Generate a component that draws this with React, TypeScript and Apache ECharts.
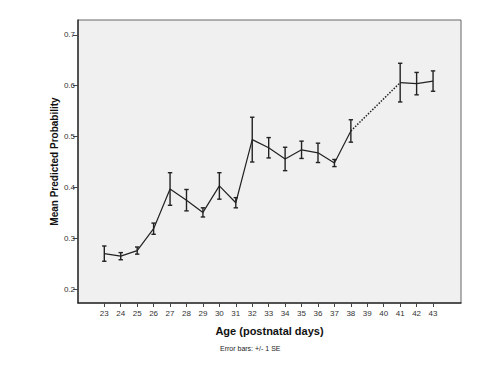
import React, { useEffect, useRef } from "react";
import * as echarts from "echarts";

const ages = [23, 24, 25, 26, 27, 28, 29, 30, 31, 32, 33, 34, 35, 36, 37, 38, 41, 42, 43];
const means = [0.270, 0.265, 0.276, 0.319, 0.397, 0.375, 0.351, 0.403, 0.370, 0.494, 0.478, 0.456, 0.474, 0.468, 0.448, 0.511, 0.606, 0.604, 0.609];
const ses = [0.015, 0.007, 0.007, 0.011, 0.032, 0.021, 0.009, 0.026, 0.010, 0.044, 0.020, 0.023, 0.017, 0.019, 0.007, 0.022, 0.038, 0.022, 0.020];
const xTicks = [23, 24, 25, 26, 27, 28, 29, 30, 31, 32, 33, 34, 35, 36, 37, 38, 39, 40, 41, 42, 43];
const yTicks = [0.2, 0.3, 0.4, 0.5, 0.6, 0.7];

export default function App() {
  const ref = useRef<HTMLDivElement>(null);
  useEffect(() => {
    if (!ref.current) return;
    const chart = echarts.init(ref.current, null, { renderer: "svg" });
    const pts = ages.map((a, i) => [a, means[i]]);
    const gapIdx = ages.indexOf(38);
    const seg1 = pts.slice(0, gapIdx + 1);
    const seg2 = pts.slice(gapIdx + 1);
    const dotted = [pts[gapIdx], pts[gapIdx + 1]];
    const errData = ages.map((a, i) => [a, means[i] - ses[i], means[i] + ses[i]]);
    const font = "Liberation Sans, Arial, sans-serif";
    const lineStyle = { color: "#222", width: 1.2 };
    chart.setOption({
      animation: false,
      backgroundColor: "#fff",
      grid: {
        left: 78,
        top: 20,
        right: 39,
        bottom: 72,
        show: true,
        backgroundColor: "#f0f0f0",
        borderColor: "#666",
        borderWidth: 1,
      },
      xAxis: {
        type: "value",
        min: 21.4,
        max: 44.7,
        splitLine: { show: false },
        axisLine: { show: true, lineStyle: { color: "#333", width: 1.5 } },
        axisTick: { show: true, customValues: xTicks, length: 4, lineStyle: { color: "#444" } },
        axisLabel: { customValues: xTicks, color: "#333", fontSize: 8, fontFamily: font, margin: 6 },
        name: "Age (postnatal days)",
        nameLocation: "middle",
        nameGap: 22,
        nameMoveOverlap: false,
        nameTextStyle: { fontSize: 11, fontWeight: "bold", color: "#111", fontFamily: font },
      },
      yAxis: {
        type: "value",
        min: 0.173,
        max: 0.729,
        splitLine: { show: false },
        axisLine: { show: true, lineStyle: { color: "#333", width: 1.5 } },
        axisTick: { show: true, customValues: yTicks, length: 5, lineStyle: { color: "#444" } },
        axisLabel: {
          customValues: yTicks,
          color: "#333",
          fontSize: 8,
          fontFamily: font,
          margin: 3,
          formatter: (v: number) => v.toFixed(1),
        },
        name: "Mean Predicted Probability",
        nameLocation: "middle",
        nameGap: 19,
        nameMoveOverlap: false,
        nameTextStyle: { fontSize: 10, fontWeight: "bold", color: "#111", fontFamily: font },
      },
      graphic: [
        {
          type: "text",
          left: 220,
          top: 345,
          style: { text: "Error bars: +/- 1 SE", fontSize: 7, fill: "#222", fontFamily: font },
        },
      ],
      series: [
        { type: "line", data: seg1, symbol: "none", lineStyle },
        { type: "line", data: seg2, symbol: "none", lineStyle },
        { type: "line", data: dotted, symbol: "none", lineStyle: { color: "#222", width: 1.5, type: [1.5, 1.5] } },
        {
          type: "custom",
          data: errData,
          renderItem: (params: any, api: any) => {
            const x = api.value(0);
            const lo = api.coord([x, api.value(1)]);
            const hi = api.coord([x, api.value(2)]);
            const w = 2.2;
            const st = { stroke: "#222", lineWidth: 1.4 };
            return {
              type: "group",
              children: [
                { type: "line", shape: { x1: lo[0], y1: lo[1], x2: hi[0], y2: hi[1] }, style: st },
                { type: "line", shape: { x1: lo[0] - w, y1: lo[1], x2: lo[0] + w, y2: lo[1] }, style: st },
                { type: "line", shape: { x1: hi[0] - w, y1: hi[1], x2: hi[0] + w, y2: hi[1] }, style: st },
              ],
            };
          },
        },
      ],
    });
    return () => chart.dispose();
  }, []);
  return <div ref={ref} style={{ width: 500, height: 375, position: "absolute", left: 0, top: 0 }} />;
}
